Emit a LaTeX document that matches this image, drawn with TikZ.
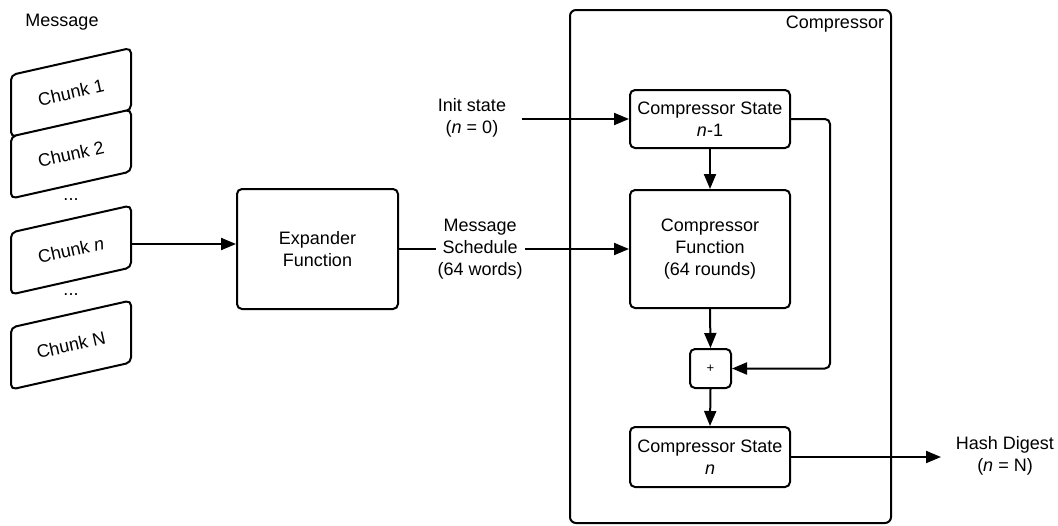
\documentclass[tikz,border=0pt]{standalone}
\usepackage{fontspec}
\setmainfont{Liberation Sans}
\usetikzlibrary{arrows.meta,calc}

% Parallelogram chunk of the message, centred at (#1,#2), label #4, node name #3
\newcommand\chunkbox[4]{%
  \draw[chunkline] (#1-60,#2-17.5) -- (#1+60,#2-44.5) -- (#1+60,#2+17.5)
     -- (#1-60,#2+44.5) -- cycle;
  \node[chunktext] (#3) at (#1,#2) {#4};
}

\begin{document}
\begin{tikzpicture}[x=1pt,y=-1pt,
  every node/.style={font=\fontsize{18}{22}\selectfont, align=center},
  line/.style={line width=2pt},
  arr/.style={line width=2pt, -{Triangle[length=15pt,width=12pt]}},
  box/.style={draw, line width=2pt, rounded corners=5pt, fill=white,
              inner sep=0pt},
  chunkline/.style={line width=2pt, rounded corners=5pt, fill=white,
                    line join=round},
  chunktext/.style={rotate=12.7, inner sep=0pt},
  lbl/.style={fill=white, inner sep=2pt}]

\useasboundingbox (0,0) rectangle (1058,525);

% Message chunks
\node (msg) at (62,22) {Message};
\chunkbox{71}{92.5}{c1}{Chunk 1}
\chunkbox{71}{154}{c2}{Chunk 2}
\node (dots1) at (71,200) {...};
\chunkbox{71}{250}{cn}{Chunk \textit{n}}
\node (dots2) at (71,295) {...};
\chunkbox{71}{345}{cN}{Chunk N}
\coordinate (cnout) at (131,244);

% Expander
\node[box, minimum width=161pt, minimum height=120pt] (exp) at (317.5,249)
  {Expander\\Function};

% Compressor frame
\draw[line, rounded corners=6pt] (570,10) rectangle (891,523);
\node (comp) at (835,24) {Compressor};

% Compressor internals
\node[box, minimum width=160pt, minimum height=58pt] (s0) at (710,119)
  {Compressor State\\\textit{n}-1};
\node[box, minimum width=160pt, minimum height=118pt] (cf) at (710,249)
  {Compressor\\Function\\(64 rounds)};
\node[box, minimum width=41pt, minimum height=39pt, font=\fontsize{13}{15}\selectfont]
  (plus) at (710.5,368.5) {+};
\node[box, minimum width=160pt, minimum height=60pt] (s1) at (710,457)
  {Compressor State\\\textit{n}};

% Outside labels
\node (init) at (472,118) {Init state\\(\textit{n} = 0)};
\node (hash) at (1005,456) {Hash Digest\\(\textit{n} = N)};
\coordinate (initout) at (522,119);

% Connectors
\draw[arr] (cnout) -- (cnout -| exp.west);
\draw[arr] (exp.east |- cf.west) -- node[lbl, pos=0.353] (sched)
  {Message\\Schedule\\(64 words)} (cf.west);
\draw[arr] (initout) -- (initout -| s0.west);
\draw[arr] (s0.south) -- (cf.north);
\draw[arr] (cf.south) -- (plus.north);
\draw[arr] (plus.south) -- (s1.north);
\draw[arr, rounded corners=5pt] (s0.east) -| (830,368.5) -- (plus.east);
\coordinate (hashin) at (941,457);
\draw[arr] (s1.east) -- (hashin);

\end{tikzpicture}
\end{document}
